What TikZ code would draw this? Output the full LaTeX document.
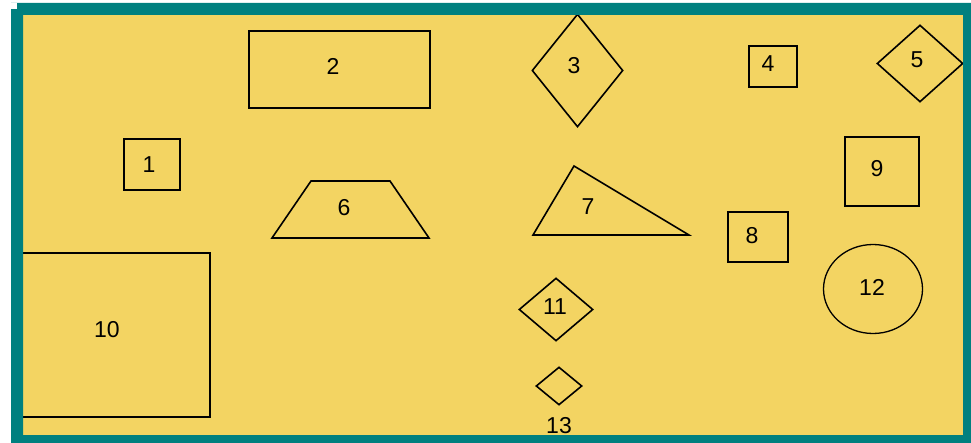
\documentclass[tikz,border=0pt]{standalone}
\usepackage{fontspec}
\setmainfont{Liberation Sans}
\usepackage{tikz}
\usetikzlibrary{positioning, shapes.geometric}
\definecolor{paper}{HTML}{F3D462}
\definecolor{frameteal}{HTML}{00807F}

\begin{document}
\begin{tikzpicture}[x=1pt, y=-1pt,
    every node/.style={font=\fontsize{23}{25}\selectfont, inner sep=0pt},
    box/.style={draw, line width=1.6pt, rectangle},
    rhomb/.style={draw, line width=1.6pt, diamond},
    outline/.style={draw, line width=1.6pt, line join=miter}]
  \useasboundingbox (0,0) rectangle (971,443);
  \fill[paper] (11,3) rectangle (971,443);

  % boxes
  \node[box, minimum width=56pt, minimum height=51pt] (s1) at (152,164.5) {};
  \node (t1) at (149,165) {1};
  \node[box, minimum width=181pt, minimum height=77pt] (s2) at (339.5,69.5) {};
  \node (t2) at (333,66) {2};
  \node[box, minimum width=48pt, minimum height=41pt] (s4) at (773,66.5) {};
  \node (t4) at (768,64) {4};
  \node[box, minimum width=60pt, minimum height=50pt] (s8) at (758,237) {};
  \node (t8) at (752,236) {8};
  \node[box, minimum width=74pt, minimum height=69pt] (s9) at (882,171.5) {};
  \node (t9) at (877,169) {9};
  \node[box, minimum width=194pt, minimum height=164pt] (s10) at (113,335) {};
  \node (t10) at (107,330) {10};

  % diamonds
  \node[rhomb, minimum width=91pt, minimum height=113pt] (s3) at (577.5,70.5) {};
  \node (t3) at (574,66) {3};
  \node[rhomb, minimum width=86pt, minimum height=77pt] (s5) at (920,63.5) {};
  \node (t5) at (917,60) {5};
  \node[rhomb, minimum width=74pt, minimum height=63pt] (s11) at (556,309.5) {};
  \node (t11) at (555,307) {11};
  \node[rhomb, minimum width=46pt, minimum height=38pt] (s13) at (559,386) {};
  \node[below=11pt of s13] (t13) {13};

  % trapezium, triangle, circle
  \draw[outline] (311,181) -- (390,181) -- (429,238) -- (272,238) -- cycle;
  \node (t6) at (344,208) {6};
  \draw[outline] (574,166) -- (689,235) -- (533,235) -- cycle;
  \node (t7) at (588,207) {7};
  \node[draw, line width=1.3pt, ellipse, minimum width=99pt, minimum height=89pt] (s12) at (873,289) {};
  \node (t12) at (872,287) {12};

  % frame
  \fill[frameteal, even odd rule] (11,3) rectangle (971,443) (23,15) rectangle (963,435);
  \fill[white] (11,3) rectangle (17,9);
\end{tikzpicture}
\end{document}
